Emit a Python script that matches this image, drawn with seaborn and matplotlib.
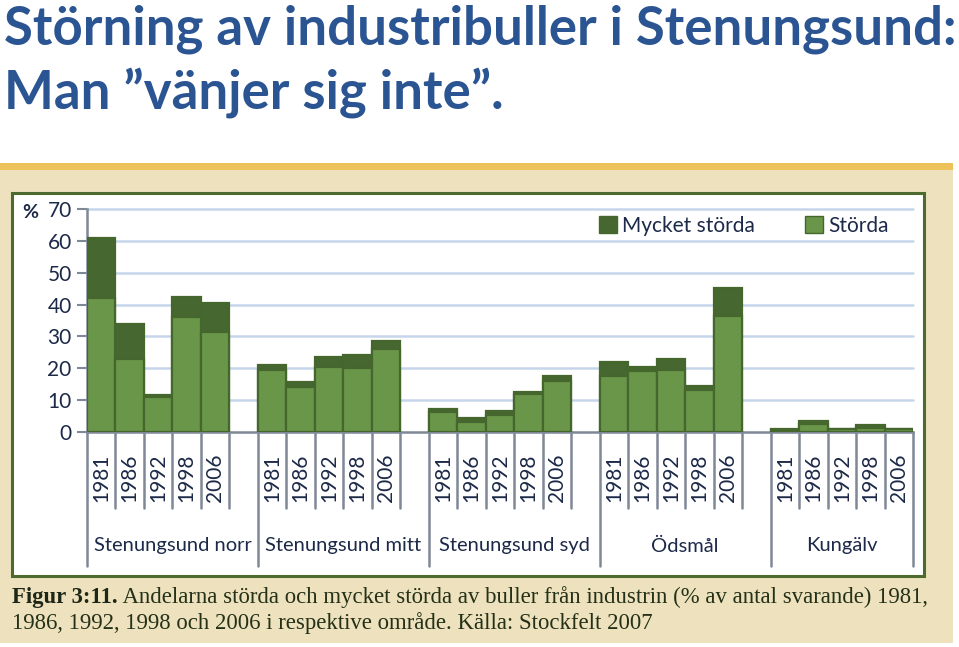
import matplotlib
matplotlib.use("Agg")
import matplotlib.pyplot as plt
import seaborn as sns
import pandas as pd
from matplotlib.patches import Rectangle, Patch
from matplotlib.lines import Line2D
from matplotlib.transforms import blended_transform_factory

# ---------------- data ----------------
areas = ["Stenungsund norr", "Stenungsund mitt", "Stenungsund syd", "Ödsmål", "Kungälv"]
years = ["1981", "1986", "1992", "1998", "2006"]
storda = [
    [42.0, 23.0, 11.0, 36.0, 31.5],
    [19.5, 14.0, 20.5, 20.0, 26.0],
    [6.2, 2.9, 5.3, 11.9, 16.0],
    [17.5, 19.0, 19.5, 13.0, 36.5],
    [0.5, 2.5, 0.7, 1.2, 0.7],
]
mycket = [
    [19.0, 11.0, 0.4, 6.5, 9.0],
    [1.5, 1.5, 3.0, 4.0, 2.5],
    [1.1, 1.3, 1.3, 0.7, 1.6],
    [4.5, 1.5, 3.5, 1.3, 8.7],
    [0.2, 0.8, 0.3, 0.8, 0.3],
]
yticks = [0, 10, 20, 30, 40, 50, 60, 70]
title_lines = ["Störning av industribuller i Stenungsund:", "Man \u201dvänjer sig inte\u201d."]
legend_labels = ["Mycket störda", "Störda"]
caption_bold = "Figur 3:11."
caption_rest1 = " Andelarna störda och mycket störda av buller från industrin (% av antal svarande) 1981,"
caption_line2 = "1986, 1992, 1998 och 2006 i respektive område. Källa: Stockfelt 2007"

# ---------------- styling ----------------
W, H = 959, 647
C_LIGHT = "#6A9649"
C_DARK = "#466830"
C_EDGE = "#45662C"
C_GRID = "#C6D6EA"
C_AXIS = "#7E8896"
C_TEXT = "#1C2948"
C_TITLE = "#2B5592"
FONT = ["Lato", "DejaVu Sans"]

sns.set_theme(style="white")
plt.rcParams["font.family"] = FONT

def fx(px):
    return px / W

def fy(py):
    return 1 - py / H

# slot table (one empty slot after each area except the last)
slot_labels = []
rows = []
for gi, area in enumerate(areas):
    for yi, yr in enumerate(years):
        key = f"{area} {yr}"
        slot_labels.append(key)
        rows.append(dict(slot=key, area=area, year=yr,
                         storda=storda[gi][yi],
                         total=storda[gi][yi] + mycket[gi][yi]))
    if gi < len(areas) - 1:
        slot_labels.append(f"__gap{gi}")
df = pd.DataFrame(rows)

fig = plt.figure(figsize=(W / 100, H / 100), dpi=100)
fig.patch.set_facecolor("white")

# background panel, orange rule, white chart box
fig.add_artist(Rectangle((0, fy(643)), fx(953), (643 - 169) / H, transform=fig.transFigure,
                         facecolor="#EDE2BD", edgecolor="none", zorder=-10))
fig.add_artist(Rectangle((0, fy(170)), fx(953), 7 / H, transform=fig.transFigure,
                         facecolor="#EEC25A", edgecolor="none", zorder=-9))
fig.add_artist(Rectangle((fx(12), fy(576)), fx(924 - 12), (576 - 193) / H, transform=fig.transFigure,
                         facecolor="white", edgecolor="#4E6B2F", linewidth=2.2, zorder=-8))

ax = fig.add_axes([fx(87), fy(431.7), fx(913 - 87), 222.4 / H])
ax.set_facecolor("none")
ax.set_zorder(1)

sns.barplot(data=df, x="slot", y="total", order=slot_labels, color=C_DARK, saturation=1,
            width=1.0, edgecolor=C_EDGE, linewidth=1.6, errorbar=None, ax=ax, zorder=3)
sns.barplot(data=df, x="slot", y="storda", order=slot_labels, color=C_LIGHT, saturation=1,
            width=1.0, edgecolor=C_EDGE, linewidth=1.6, errorbar=None, ax=ax, zorder=4)

n = len(slot_labels)
ax.set_xlim(-0.5, n - 0.5)
ax.set_ylim(0, 70)
ax.set_xlabel("")
ax.set_ylabel("")
ax.set_yticks(yticks)
ax.set_yticklabels([str(v) for v in yticks], fontsize=15, color=C_TEXT)
ax.tick_params(axis="y", length=7, width=1.5, color=C_AXIS, pad=4, left=True)
ax.tick_params(axis="x", bottom=False, labelbottom=False)
ax.set_xticks([])
for y in yticks[1:]:
    ax.axhline(y, color=C_GRID, linewidth=1.8, zorder=1, clip_on=False)
for s in ["top", "right"]:
    ax.spines[s].set_visible(False)
ax.spines["left"].set_color(C_AXIS)
ax.spines["left"].set_linewidth(1.8)
ax.spines["bottom"].set_color(C_AXIS)
ax.spines["bottom"].set_linewidth(1.8)

# multi-level category axis
tr = blended_transform_factory(ax.transData, ax.transAxes)
short_y = -(508 - 431.7) / 222.4
long_y = -(566 - 431.7) / 222.4
year_y = -(478 - 431.7) / 222.4
group_y = -(546 - 431.7) / 222.4
for gi, area in enumerate(areas):
    start = slot_labels.index(f"{area} {years[0]}")
    end = slot_labels.index(f"{area} {years[-1]}")
    ax.add_line(Line2D([start - 0.5, start - 0.5], [0, long_y], transform=tr, color=C_AXIS,
                       linewidth=1.8, clip_on=False))
    for yi, yr in enumerate(years):
        pos = start + yi
        ax.text(pos, year_y, yr, transform=tr, rotation=90, ha="center", va="center",
                fontsize=15, color=C_TEXT)
        last = (gi == len(areas) - 1) and (yi == len(years) - 1)
        ax.add_line(Line2D([pos + 0.5, pos + 0.5], [0, long_y if last else short_y], transform=tr,
                           color=C_AXIS, linewidth=1.8, clip_on=False))
    span_end = end + 1 if gi < len(areas) - 1 else end
    ax.text((start - 0.5 + span_end + 0.5) / 2, group_y, area, transform=tr, ha="center", va="center",
            fontsize=14.5, color=C_TEXT)

fig.text(fx(30), fy(213), "%", ha="center", va="center", fontsize=14, fontweight="bold", color=C_TEXT)

handles = [Patch(facecolor=C_DARK, edgecolor=C_EDGE), Patch(facecolor=C_LIGHT, edgecolor=C_EDGE)]
leg = ax.legend(handles, legend_labels, ncol=2, frameon=False, loc="center",
                bbox_to_anchor=(fx(744), fy(226)), bbox_transform=fig.transFigure,
                handlelength=0.85, handleheight=0.85, handletextpad=0.25, columnspacing=2.4,
                fontsize=15)
for t in leg.get_texts():
    t.set_color(C_TEXT)

# title, fitted to the reference width
t1 = fig.text(fx(4), fy(44), title_lines[0], fontsize=36, fontweight="bold", color=C_TITLE,
              ha="left", va="baseline", family=["Lato", "DejaVu Sans"])
t2 = fig.text(fx(4), fy(108), title_lines[1], fontsize=36, fontweight="bold", color=C_TITLE,
              ha="left", va="baseline", family=["Lato", "DejaVu Sans"])
fig.canvas.draw()
r = fig.canvas.get_renderer()
w1 = t1.get_window_extent(r).width
fs = 36 * 950 / w1
t1.set_fontsize(fs)
t2.set_fontsize(fs)

# caption
SERIF = ["Liberation Serif", "DejaVu Serif"]
c1 = fig.text(fx(12), fy(603), caption_bold, fontsize=15, fontweight="bold", color="#1E2616",
              ha="left", va="baseline", family=SERIF)
c2 = fig.text(fx(12), fy(603), caption_rest1, fontsize=15, color="#243018",
              ha="left", va="baseline", family=SERIF)
c3 = fig.text(fx(12), fy(629), caption_line2, fontsize=15, color="#243018",
              ha="left", va="baseline", family=SERIF)
fig.canvas.draw()
wb = c1.get_window_extent(r).width
wr = c2.get_window_extent(r).width
cfs = 15 * (930 - 12) / (wb + wr)
for c in (c1, c2, c3):
    c.set_fontsize(cfs)
fig.canvas.draw()
wb = c1.get_window_extent(r).width
c2.set_x(fx(12 + wb))

fig.savefig("out.png", dpi=100, facecolor="white")
